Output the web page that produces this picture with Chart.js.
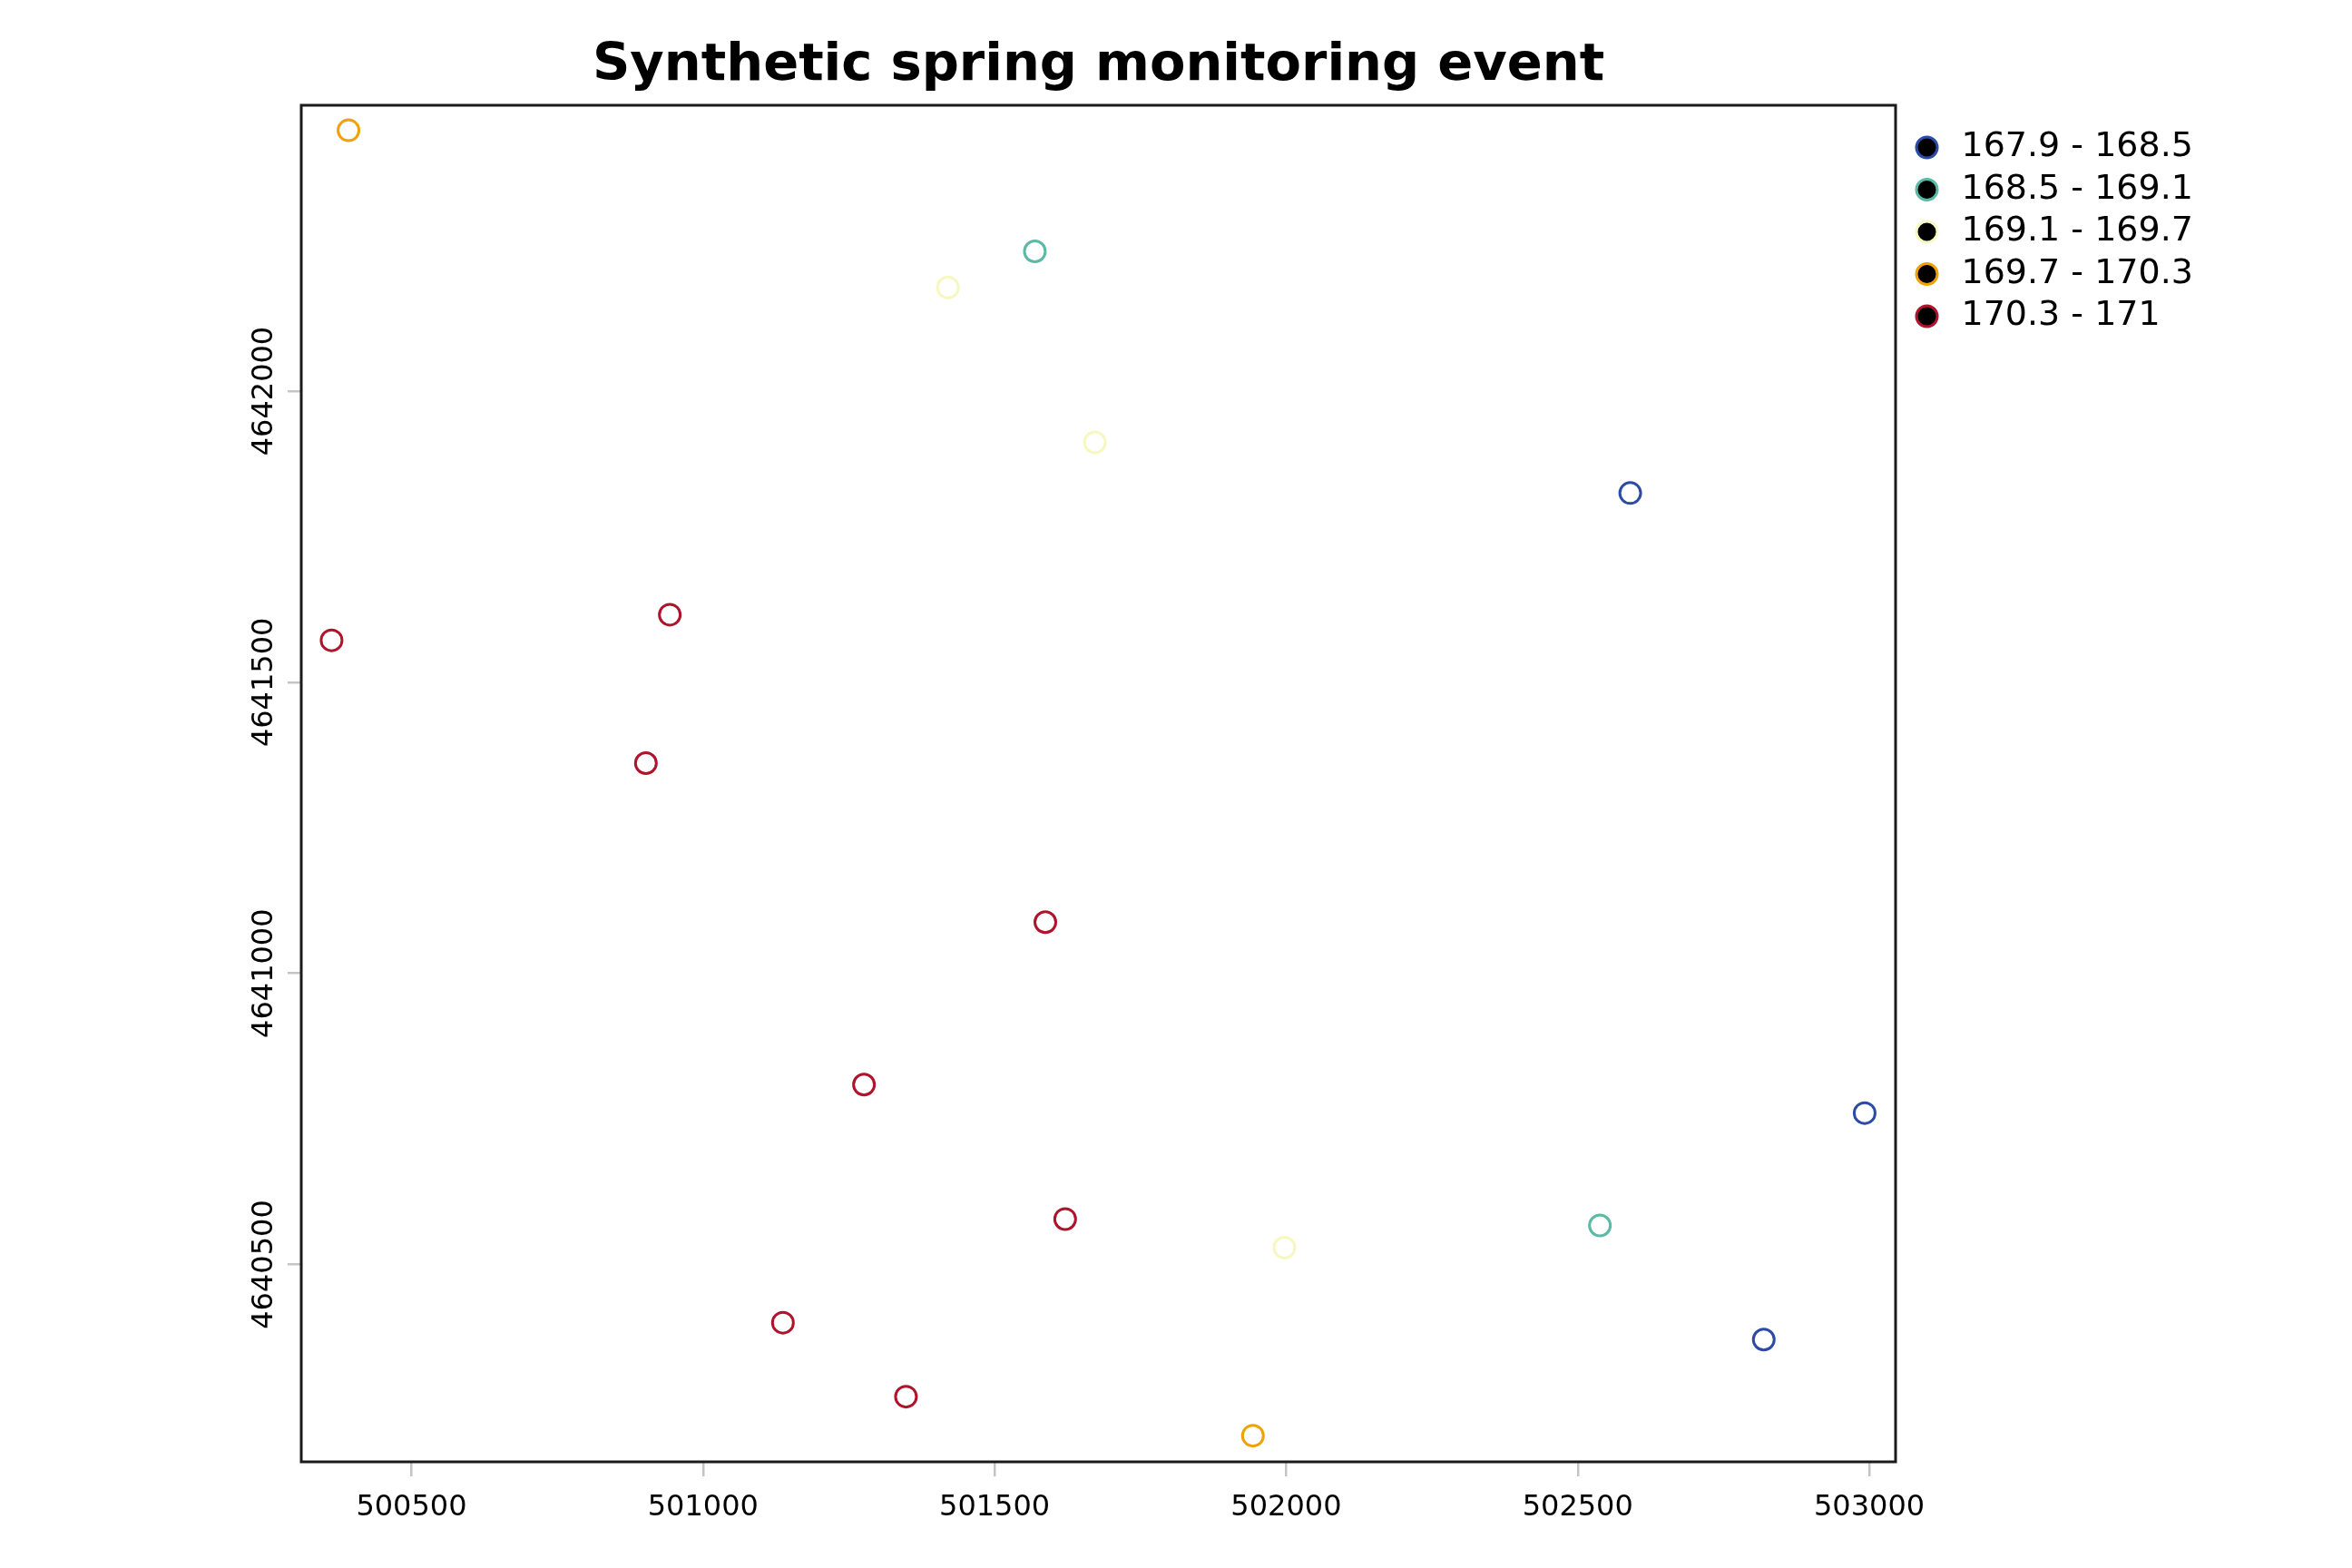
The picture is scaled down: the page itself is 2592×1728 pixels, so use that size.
<!DOCTYPE html>
<html>
<head>
<meta charset="utf-8">
<script src="https://cdn.jsdelivr.net/npm/chart.js@4.4.1/dist/chart.umd.min.js"></script>
<style>html,body{margin:0;padding:0;background:#fff;}canvas{display:block;}</style>
</head>
<body>
<canvas id="c" width="2592" height="1728"></canvas>
<script>
// ---- data ----
const chartTitle = 'Synthetic spring monitoring event';
const classLabels = ['167.9 - 168.5', '168.5 - 169.1', '169.1 - 169.7', '169.7 - 170.3', '170.3 - 171'];
const classColors = ['#2c4ba4', '#5bb9a5', '#f7f7c2', '#eea208', '#ae142b'];

const class1X = [502590, 502992, 502819];
const class1Y = [4641825, 4640760, 4640371];
const class2X = [501569, 502538];
const class2Y = [4642240, 4640567];
const class3X = [501420, 501672, 501997];
const class3Y = [4642178, 4641912, 4640529];
const class4X = [500392, 501943];
const class4Y = [4642448, 4640206];
const class5X = [500943, 500363, 500902, 501587, 501276, 501621, 501137, 501348];
const class5Y = [4641616, 4641572, 4641361, 4641088, 4640809, 4640578, 4640400, 4640273];

const xTicks = [500500, 501000, 501500, 502000, 502500, 503000];
const yTicks = [4640500, 4641000, 4641500, 4642000];
const xRange = [500311, 503045];
const yRange = [4640161, 4642491];

// ---- build ----
const FAMILY = "'DejaVu Sans', sans-serif";
const classXs = [class1X, class2X, class3X, class4X, class5X];
const classYs = [class1Y, class2Y, class3Y, class4Y, class5Y];

const datasets = classLabels.map((lab, i) => ({
  label: lab,
  data: classXs[i].map((x, j) => ({x: x, y: classYs[i][j]})),
  pointStyle: 'circle',
  pointRadius: 11.5,
  pointHoverRadius: 11.5,
  pointBorderWidth: 3,
  borderColor: classColors[i],
  backgroundColor: 'rgba(0,0,0,0)',
  showLine: false
}));

// measure helpers
const mctx = document.createElement('canvas').getContext('2d');
function textW(t, size, weight) {
  mctx.font = (weight || 'normal') + ' ' + size + 'px ' + FAMILY;
  return mctx.measureText(t).width;
}
const legendFont = 38, legendPad = 8.5, legendBox = 38;
const maxLegendText = Math.max(...classLabels.map(t => textW(t, legendFont)));
const legendWidth = legendPad + legendBox + legendFont / 2 + maxLegendText;
const plotRight = 2087;
const padRight = 2592 - plotRight - legendWidth - 12;

const tickFont = 32;
const yTl = 15;
const yWidest = Math.max(...yTicks.map(v => textW(String(v), tickFont)));
const yLabelCenter = 291.5;
const yPad = (332 - yTl - yLabelCenter) - yWidest / 2;

const framePlugin = {
  id: 'frame',
  beforeDraw(chart) {
    const c = chart.ctx;
    c.save();
    c.fillStyle = '#ffffff';
    c.fillRect(0, 0, chart.width, chart.height);
    c.restore();
  },
  afterLayout(chart) {
    if (chart.legend) { chart.legend.left += 7; chart.legend.right += 7; }
  },
  beforeDatasetsDraw(chart) {
    const a = chart.chartArea, c = chart.ctx;
    c.save();
    c.strokeStyle = '#1a1a1a';
    c.lineWidth = 3;
    c.strokeRect(a.left, a.top, a.right - a.left, a.bottom - a.top);
    c.restore();
  }
};

new Chart(document.getElementById('c'), {
  type: 'scatter',
  data: {datasets: datasets},
  plugins: [framePlugin],
  options: {
    responsive: false,
    devicePixelRatio: 1,
    animation: false,
    layout: {padding: {left: 0, top: 0, bottom: 0, right: padRight}},
    plugins: {
      tooltip: {enabled: false},
      title: {
        display: true,
        text: chartTitle,
        fullSize: false,
        color: '#000',
        font: {family: FAMILY, size: 57.5, weight: 'bold', lineHeight: 1.2},
        padding: {top: 39, bottom: 8}
      },
      legend: {
        display: true,
        position: 'right',
        align: 'start',
        title: {display: true, text: ' ', font: {size: 10, lineHeight: 1.2}, padding: {top: 61, bottom: 62}},
        labels: {
          usePointStyle: true,
          boxWidth: legendBox,
          boxHeight: 16.3,
          padding: legendPad,
          color: '#000',
          font: {family: FAMILY, size: legendFont},
          generateLabels: () => classLabels.map((t, i) => ({
            text: t, fillStyle: '#000000', strokeStyle: classColors[i], lineWidth: 3,
            pointStyle: 'circle', hidden: false, datasetIndex: i, fontColor: '#000'
          }))
        }
      }
    },
    scales: {
      x: {
        type: 'linear',
        position: 'bottom',
        min: xRange[0],
        max: xRange[1],
        afterBuildTicks: s => { s.ticks = xTicks.map(v => ({value: v})); },
        afterFit: s => { s.height = 117; },
        border: {display: false},
        grid: {drawOnChartArea: false, drawTicks: true, tickLength: 16, color: '#c4c4c4', lineWidth: 2.5},
        ticks: {
          autoSkip: false, maxRotation: 0, minRotation: 0, padding: 15, color: '#000',
          font: {family: FAMILY, size: tickFont},
          callback: v => String(v)
        }
      },
      y: {
        type: 'linear',
        position: 'left',
        min: yRange[0],
        max: yRange[1],
        afterBuildTicks: s => { s.ticks = yTicks.map(v => ({value: v})); },
        afterFit: s => { s.width = 332; },
        border: {display: false},
        grid: {drawOnChartArea: false, drawTicks: true, tickLength: yTl, color: '#c4c4c4', lineWidth: 2.5},
        ticks: {
          autoSkip: false, minRotation: 90, maxRotation: 90, crossAlign: 'center', padding: yPad, color: '#000',
          font: {family: FAMILY, size: tickFont},
          callback: v => String(v)
        }
      }
    }
  }
});
</script>
</body>
</html>
